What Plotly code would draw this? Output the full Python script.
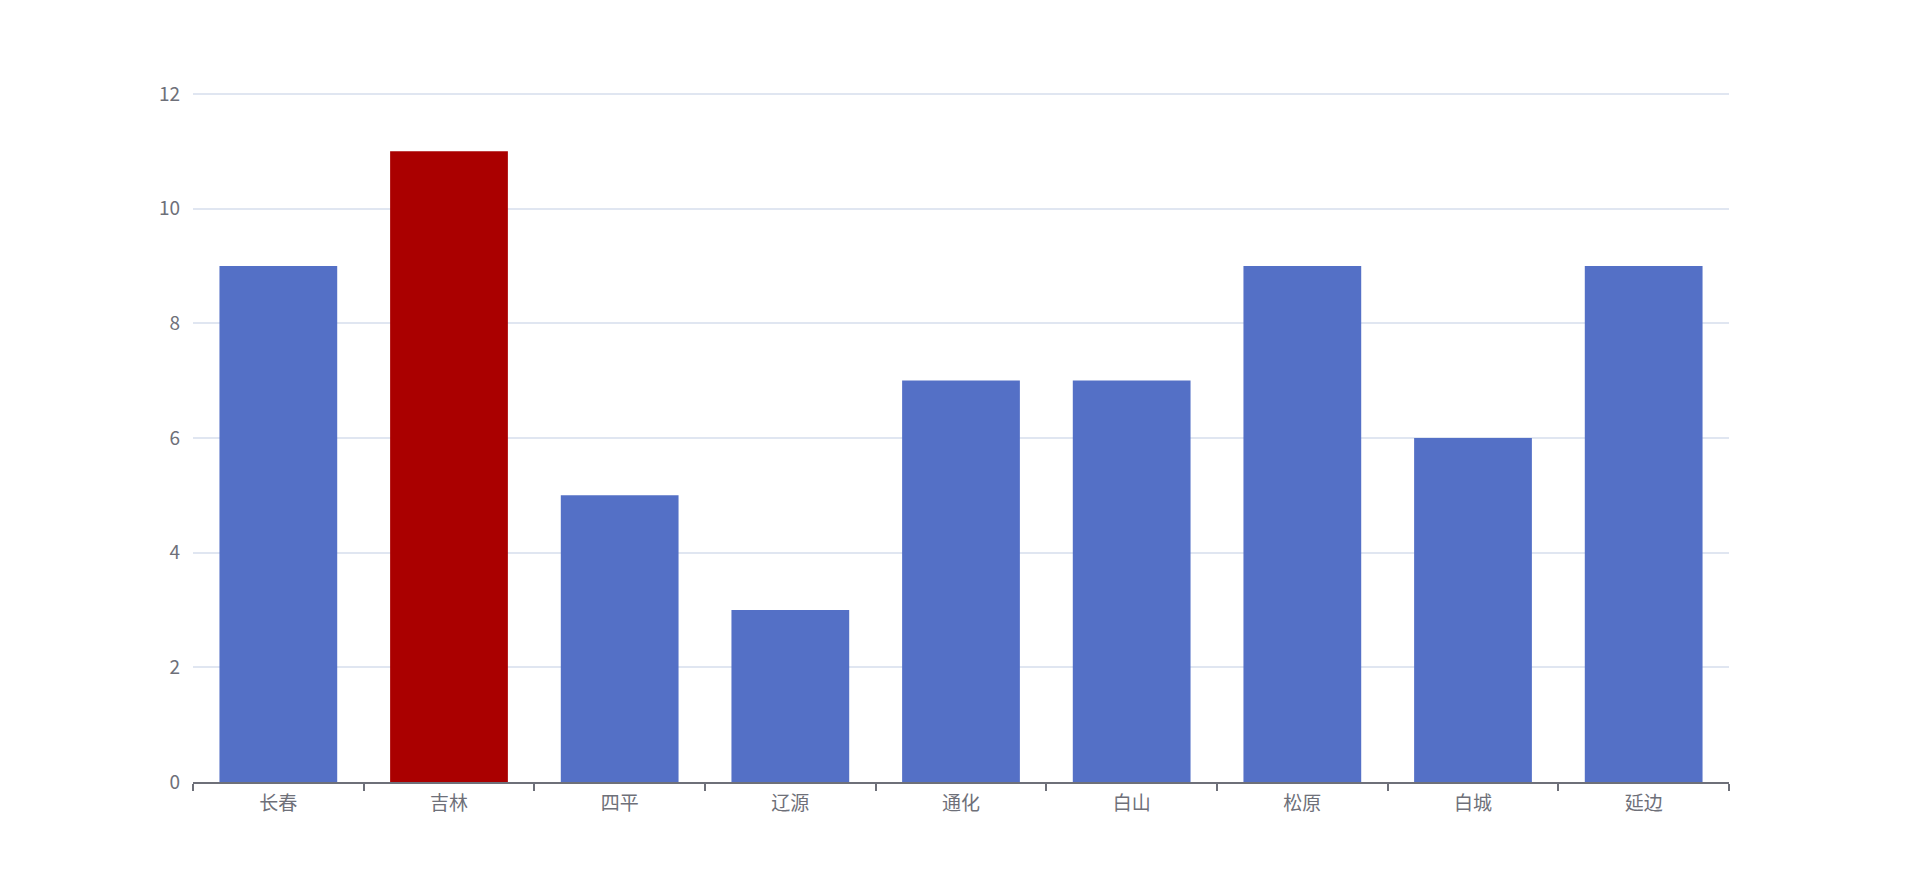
import plotly.graph_objects as go

categories = ["长春", "吉林", "四平", "辽源", "通化", "白山", "松原", "白城", "延边"]
values = [9, 11, 5, 3, 7, 7, 9, 6, 9]
highlight = "吉林"
y_ticks = [0, 2, 4, 6, 8, 10, 12]

colors = ["#aa0000" if c == highlight else "#5470c6" for c in categories]

fig = go.Figure(go.Bar(
    x=categories, y=values, marker=dict(color=colors, line=dict(width=0)),
    hoverinfo="x+y",
))

font_family = "Noto Sans CJK SC, Noto Sans, sans-serif"
fig.update_layout(
    width=1920, height=892,
    margin=dict(l=185, r=199, t=83, b=118),
    paper_bgcolor="white", plot_bgcolor="white",
    bargap=0.31,
    showlegend=False,
    font=dict(family=font_family, size=19, color="#6e7079"),
    xaxis=dict(
        type="category", automargin=False,
        showline=True, linecolor="#6e7079", linewidth=1.5,
        ticks="outside", tickson="boundaries", ticklen=7, tickwidth=1.5, tickcolor="#6e7079",
        showgrid=False, zeroline=False,
        tickfont=dict(size=19, color="#6e7079"),
        ticklabelstandoff=3,
    ),
    yaxis=dict(
        range=[0, 12.05], tickvals=y_ticks, automargin=False,
        showline=False, ticks="",
        showgrid=True, gridcolor="#e0e6f1", gridwidth=1.5,
        zeroline=False,
        tickfont=dict(size=19, color="#6e7079"),
        ticklabelstandoff=12,
    ),
)

fig.write_html("out.html")
